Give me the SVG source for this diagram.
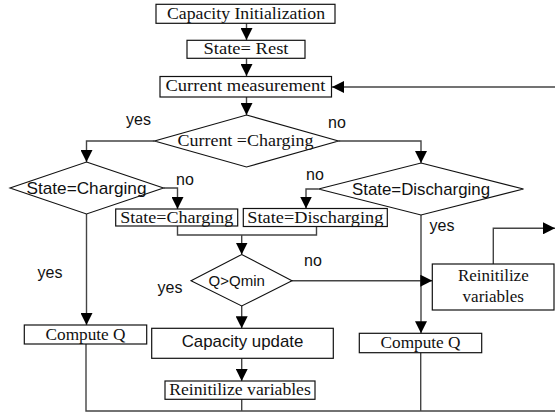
<svg xmlns="http://www.w3.org/2000/svg" width="555" height="416" viewBox="0 0 555 416">
  <style>
    .box { fill: #fff; stroke: #111; stroke-width: 1.2; }
    .dia { fill: #fff; stroke: #111; stroke-width: 1.1; }
    .serif { font-family: "Liberation Serif", "Times New Roman", serif; font-size: 17px; fill: #111; text-anchor: middle; }
    .sans { font-family: "Liberation Sans", Arial, sans-serif; font-size: 17px; fill: #111; text-anchor: middle; }
    .lbl { font-family: "Liberation Sans", Arial, sans-serif; font-size: 16px; fill: #111; text-anchor: middle; }
    .wire { fill: none; stroke: #444; stroke-width: 1.4; }
  </style>
  <defs>
    <marker id="arrow" markerUnits="userSpaceOnUse" markerWidth="12" markerHeight="12" viewBox="0 0 12 12" refX="12" refY="6" orient="auto">
      <path d="M0,0 L12,6 L0,12 Z" fill="#000"/>
    </marker>
  </defs>

  <rect width="555" height="416" fill="#fff"/>

  <g id="connectors">
    <path class="wire" d="M246.5,23 V40" marker-end="url(#arrow)"/>
    <path class="wire" d="M246.5,58 V76" marker-end="url(#arrow)"/>
    <path class="wire" d="M555,87 H332" marker-end="url(#arrow)"/>
    <path class="wire" d="M246.5,97 V115" marker-end="url(#arrow)"/>
    <!-- Current = Charging : yes / no -->
    <path class="wire" d="M154.5,141 H86.5 V162" marker-end="url(#arrow)"/>
    <path class="wire" d="M338.5,141 H421 V163" marker-end="url(#arrow)"/>
    <!-- State = Charging : no -->
    <path class="wire" d="M163.5,188 H177.5 V209" marker-end="url(#arrow)"/>
    <!-- State = Discharging : no -->
    <path class="wire" d="M318.5,189 H306 V208.5" marker-end="url(#arrow)"/>
    <!-- merge into Q>Qmin -->
    <path class="wire" d="M177.5,226 V235 H316.5 V226.5"/>
    <path class="wire" d="M241.7,235 V254.5" marker-end="url(#arrow)"/>
    <!-- State = Charging : yes -->
    <path class="wire" d="M86.5,214 V325" marker-end="url(#arrow)"/>
    <!-- State = Discharging : yes -->
    <path class="wire" d="M421,215 V333.3" marker-end="url(#arrow)"/>
    <!-- Q>Qmin : no / yes -->
    <path class="wire" d="M291.5,280.7 H432.3" marker-end="url(#arrow)"/>
    <path class="wire" d="M241.7,306 V328.3" marker-end="url(#arrow)"/>
    <path class="wire" d="M241.7,358.3 V381" marker-end="url(#arrow)"/>
    <!-- reinitialize output -->
    <path class="wire" d="M493.3,264 V228.3 H555" marker-end="url(#arrow)"/>
    <!-- bottom collector -->
    <path class="wire" d="M86,344 V411 H555"/>
    <path class="wire" d="M241.7,399.3 V411"/>
    <path class="wire" d="M420.7,352.7 V411"/>
  </g>

  <g id="capacity-init">
    <rect class="box" x="156" y="4.3" width="179" height="19"/>
    <text class="serif" x="246" y="19.3" textLength="158" lengthAdjust="spacingAndGlyphs">Capacity Initialization</text>
  </g>
  <g id="state-rest">
    <rect class="box" x="187" y="40.3" width="118" height="18"/>
    <text class="serif" x="246" y="53.5" textLength="85" lengthAdjust="spacingAndGlyphs">State= Rest</text>
  </g>
  <g id="current-measurement">
    <rect class="box" x="160" y="76.5" width="171.5" height="20.5"/>
    <text class="serif" x="245.5" y="90.8" textLength="160" lengthAdjust="spacingAndGlyphs">Current measurement</text>
  </g>
  <g id="current-charging">
    <polygon class="dia" points="246.5,115 338.5,141 246.5,167 154.5,141"/>
    <text class="serif" x="245.5" y="146" textLength="136" lengthAdjust="spacingAndGlyphs">Current =Charging</text>
  </g>
  <g id="state-charging-test">
    <polygon class="dia" points="86.5,162 163.5,188 86.5,214 10,188"/>
    <text class="sans" x="86.5" y="193.5" textLength="120" lengthAdjust="spacingAndGlyphs">State=Charging</text>
  </g>
  <g id="state-discharging-test">
    <polygon class="dia" points="421,163 523.5,189 421,215 318.5,189"/>
    <text class="sans" x="421" y="195" textLength="138" lengthAdjust="spacingAndGlyphs">State=Discharging</text>
  </g>
  <g id="set-charging">
    <rect class="box" x="115.7" y="209" width="122" height="17"/>
    <text class="serif" x="176.7" y="222.8" textLength="113" lengthAdjust="spacingAndGlyphs">State=Charging</text>
  </g>
  <g id="set-discharging">
    <rect class="box" x="243.3" y="208.5" width="144" height="18"/>
    <text class="serif" x="315.3" y="222.8" textLength="136" lengthAdjust="spacingAndGlyphs">State=Discharging</text>
  </g>
  <g id="q-check">
    <polygon class="dia" points="241.7,254.5 292,280.7 241.7,306 191,280.7"/>
    <text class="sans" x="236.7" y="286" style="font-size:15px">Q&gt;Qmin</text>
  </g>
  <g id="reinit-right">
    <rect class="box" x="432.3" y="264" width="121.7" height="46"/>
    <text class="serif" x="493.3" y="280.7">Reinitilize</text>
    <text class="serif" x="493.3" y="301.7">variables</text>
  </g>
  <g id="compute-q-left">
    <rect class="box" x="24.3" y="325" width="122.4" height="19"/>
    <text class="serif" x="85.5" y="340" textLength="80" lengthAdjust="spacingAndGlyphs">Compute Q</text>
  </g>
  <g id="capacity-update">
    <rect class="box" x="151.7" y="328.3" width="181.6" height="30"/>
    <text class="sans" x="242.5" y="347" textLength="121.7" lengthAdjust="spacingAndGlyphs">Capacity update</text>
  </g>
  <g id="compute-q-right">
    <rect class="box" x="359.3" y="333.3" width="122.4" height="19.4"/>
    <text class="serif" x="420.5" y="348.3" textLength="80" lengthAdjust="spacingAndGlyphs">Compute Q</text>
  </g>
  <g id="reinit-bottom">
    <rect class="box" x="165" y="381" width="150" height="18.3"/>
    <text class="serif" x="240" y="395" textLength="141.7" lengthAdjust="spacingAndGlyphs">Reinitilize variables</text>
  </g>

  <g id="labels">
    <text class="lbl" x="138.5" y="125">yes</text>
    <text class="lbl" x="185" y="185">no</text>
    <text class="lbl" x="337" y="128">no</text>
    <text class="lbl" x="315" y="180">no</text>
    <text class="lbl" x="50" y="278">yes</text>
    <text class="lbl" x="170" y="293">yes</text>
    <text class="lbl" x="313" y="265.5">no</text>
    <text class="lbl" x="442" y="231">yes</text>
  </g>
</svg>
